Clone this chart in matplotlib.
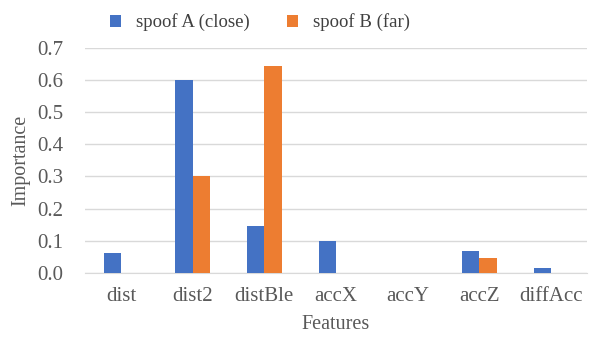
import numpy as np
import matplotlib.pyplot as plt

features = ['dist', 'dist2', 'distBle', 'accX', 'accY', 'accZ', 'diffAcc']
spoof_a = [0.062, 0.600, 0.147, 0.100, 0.0, 0.069, 0.016]
spoof_b = [0.0, 0.303, 0.643, 0.0, 0.0, 0.047, 0.0]

plt.rcParams['font.family'] = ['Liberation Serif', 'DejaVu Serif']
txt = '#595959'

fig = plt.figure(figsize=(5.91, 3.37), dpi=100)
ax = fig.add_axes([0.144, 0.19, 0.849, 0.668])

x = np.arange(len(features))
w = 0.242
ax.bar(x - w / 2, spoof_a, w, color='#4472C4', label='spoof A (close)', zorder=3)
ax.bar(x + w / 2, spoof_b, w, color='#ED7D31', label='spoof B (far)', zorder=3)

ax.set_xlim(-0.5, len(features) - 0.5)
ax.set_ylim(0, 0.7)
ax.set_yticks(np.arange(0, 0.71, 0.1))
ax.set_yticklabels([f'{v:.1f}' for v in np.arange(0, 0.71, 0.1)])
ax.set_xticks(x)
ax.set_xticklabels(features)
ax.tick_params(length=0, labelsize=15, colors=txt)
ax.tick_params(axis='x', pad=10)
ax.tick_params(axis='y', pad=16)
ax.grid(axis='y', color='#d9d9d9', linewidth=1, zorder=0)
for s in ['top', 'right', 'left']:
    ax.spines[s].set_visible(False)
ax.spines['bottom'].set_color('#d9d9d9')

ax.set_xlabel('Features', fontsize=14.5, color=txt)
ax.set_ylabel('Importance', fontsize=14.5, color=txt)
ax.xaxis.set_label_coords(0.5, -0.23, transform=ax.transAxes)
ax.yaxis.set_label_coords(-0.128, 0.5, transform=ax.transAxes)
ax.xaxis.label.set_va('center')
ax.yaxis.label.set_va('center')

fig.legend(loc='upper center', bbox_to_anchor=(0.44, 1.01), ncol=2, frameon=False,
           fontsize=13.5, labelcolor='#404040', handlelength=0.6, handleheight=0.6,
           columnspacing=2.0, handletextpad=0.8)

fig.savefig('out.png', dpi=100)
